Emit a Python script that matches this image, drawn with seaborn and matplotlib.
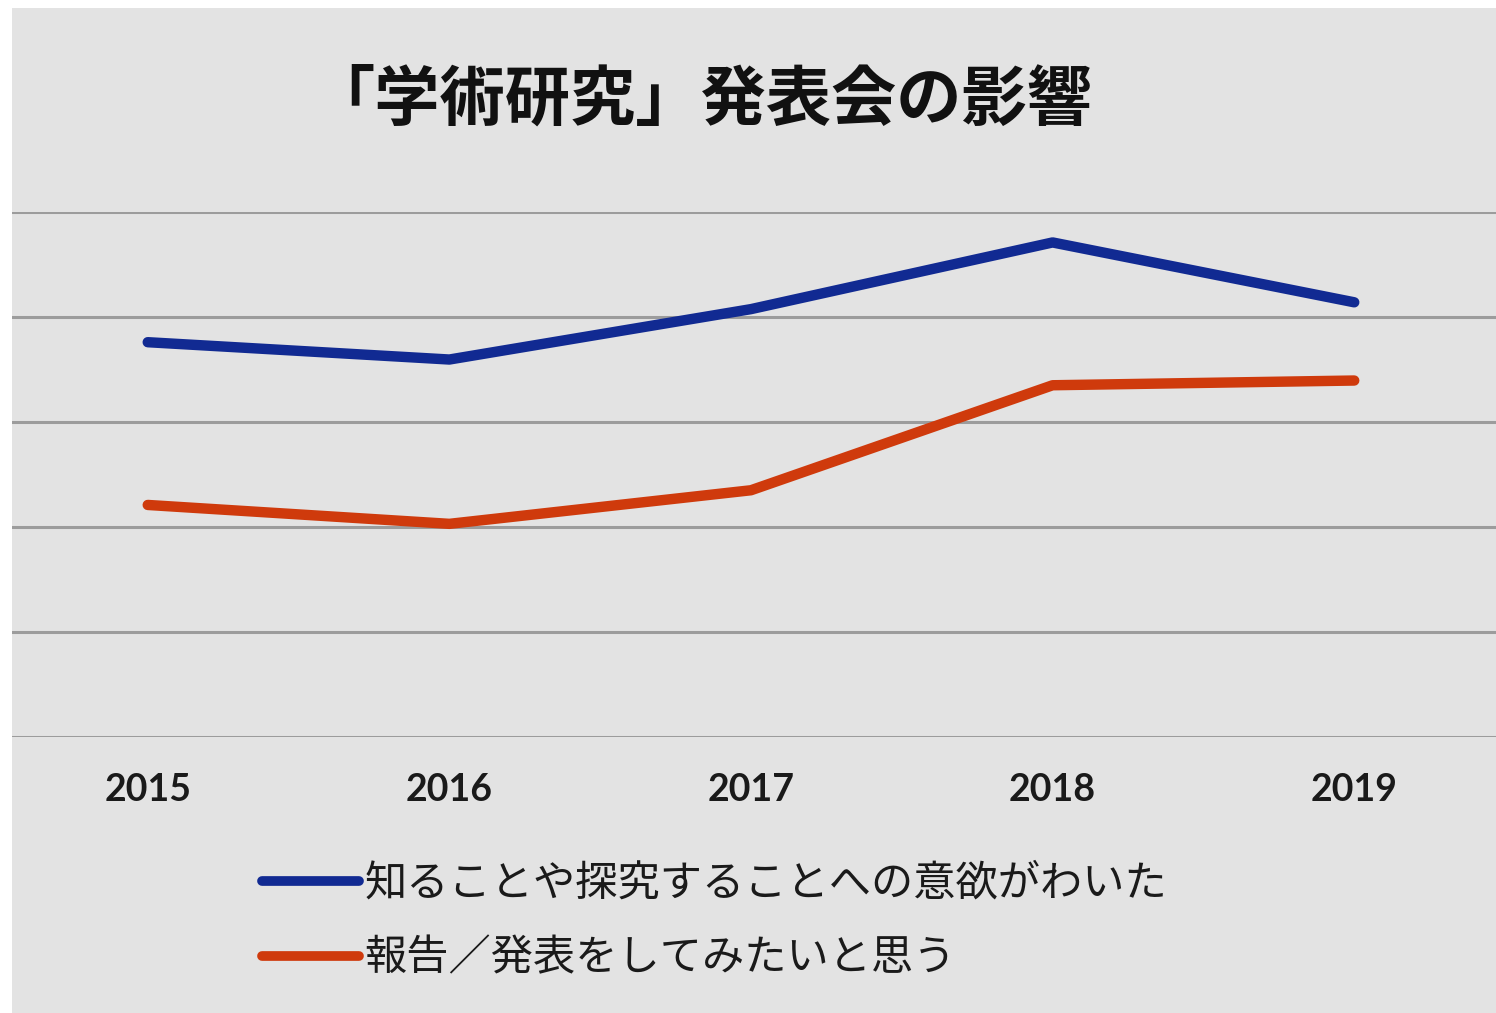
import matplotlib
matplotlib.use("Agg")
import matplotlib.pyplot as plt
import seaborn as sns
import pandas as pd
from matplotlib.patches import Rectangle
from matplotlib.lines import Line2D

years = [2015, 2016, 2017, 2018, 2019]
series_names = ["知ることや探究することへの意欲がわいた", "報告／発表をしてみたいと思う"]
curiosity = [75.2, 71.9, 81.5, 94.2, 82.8]
presenting = [44.2, 40.6, 47.0, 67.0, 67.9]
title = "「学術研究」発表会の影響"
colors = ["#112a92", "#cf3a0c"]

df = pd.DataFrame({
    "year": years * 2,
    "value": curiosity + presenting,
    "series": [series_names[0]] * len(years) + [series_names[1]] * len(years),
})

sns.set_theme(style="white")
plt.rcParams["font.family"] = ["Noto Sans CJK JP", "DejaVu Sans"]

bg = "#e3e3e3"
fig = plt.figure(figsize=(14.96, 10.13), dpi=100, facecolor="white")
fig.patches.append(Rectangle((12 / 1496, 0), 1, 1 - 8 / 1013, transform=fig.transFigure,
                             facecolor=bg, edgecolor="none", zorder=-10))
ax = fig.add_axes([12 / 1496, 1 - 737 / 1013, 1 - 12 / 1496, (737 - 212) / 1013])
ax.set_facecolor(bg)
ax.patch.set_alpha(0)

sns.lineplot(data=df, x="year", y="value", hue="series", palette=colors,
             linewidth=7.5, solid_capstyle="round", ax=ax, legend=False)

ax.set_ylim(0, 100)
ax.set_xlim(2014.55, 2019.47)
ax.set_yticks([0, 20, 40, 60, 80, 100])
ax.set_yticklabels([])
ax.grid(axis="y", color="#9c9c9c", linewidth=2.2)
ax.grid(axis="x", visible=False)
ax.set_axisbelow(True)
for s in ax.spines.values():
    s.set_visible(False)
ax.set_xticks(years)
ax.set_xticklabels([str(y) for y in years], fontfamily="Lato", fontweight="bold",
                   fontsize=27, color="#1a1a1a")
ax.tick_params(axis="x", length=0, pad=26)
ax.tick_params(axis="y", length=0)
ax.set_xlabel("")
ax.set_ylabel("")

fig.text(701 / 1496, 1 - 100 / 1013, title, ha="center", va="center",
         fontsize=47, fontweight="bold", color="#111111")

handles = [Line2D([0], [0], color=c, linewidth=7, solid_capstyle="round") for c in colors]
fig.legend(handles, series_names, loc="upper left",
           bbox_to_anchor=(262 / 1496, 1 - 862 / 1013), frameon=False,
           fontsize=30.4, handlelength=2.3, handletextpad=0.12, labelspacing=0.72,
           borderpad=0, borderaxespad=0, labelcolor="#1a1a1a")

fig.savefig("out.png", dpi=100, facecolor=fig.get_facecolor())
